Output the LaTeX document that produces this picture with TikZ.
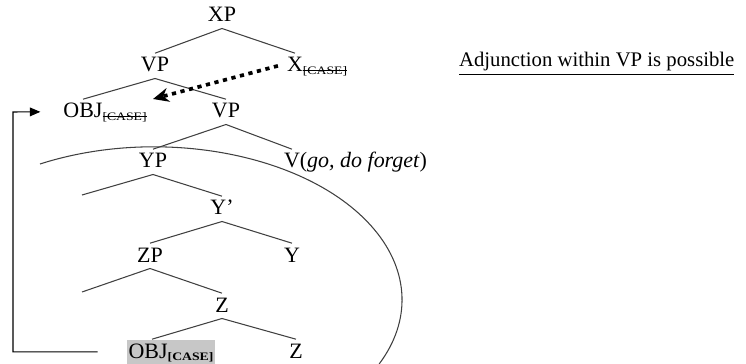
\documentclass[tikz,border=0pt]{standalone}
\usepackage{fontspec}
\setmainfont{Liberation Serif}
\newfontfamily\featfont{Liberation Serif}[FakeStretch=1.2]
\usetikzlibrary{arrows.meta}

\newcommand{\feat}[1]{\raisebox{-1.5pt}{\featfont\fontsize{6.5}{7}\selectfont #1}}% case feature as subscript
\newcommand{\casegone}{\feat{\setbox0\hbox{[CASE]}\rlap{\rule[2.1pt]{\wd0}{0.4pt}}\box0}}% checked feature
\newcommand{\casekept}{\feat{\bfseries[CASE]}}

\begin{document}
\begin{tikzpicture}[x=0.02cm,y=-0.02cm,
		cat/.style={inner sep=1pt,text height=9.5pt,text depth=2.5pt,anchor=base,font=\fontsize{12.5}{15}\selectfont},
		branch/.style={draw=black!75,line width=0.6pt},
		adjoin/.style={line width=2.1pt,dash pattern=on 2.4pt off 2.6pt,-{Stealth[length=9pt,width=8pt,inset=3pt]}},
		back/.style={line width=0.6pt,-{Triangle[length=6pt,width=5pt]}}]
		\useasboundingbox (0,0) rectangle (746,364);% page frame
		% categories
		\node[cat] (XP) at (222,22) {XP};
		\node[cat] (VP) at (155,72) {VP};
		\node[cat] (X) at (295,72) {X\rlap{\casegone}};
		\node[cat] (OBJ) at (83,118) {OBJ\rlap{\casegone}};
		\node[cat] (VPb) at (226,118) {VP};
		\node[cat] (YP) at (153,168) {YP};
		\node[cat] (V) at (292,168) {V\rlap{(\textit{go, do forget})}};
		\node[cat] (Ybar) at (222,215) {Y'};
		\node[cat] (ZP) at (150,262) {ZP};
		\node[cat] (Y) at (292,262) {Y};
		\node[cat] (Z) at (222,312) {Z};
		\node[cat,fill=black!22] (OBJb) at (171,358) {OBJ\casekept};
		\node[cat] (Zb) at (296,358) {Z};
		\node[cat,anchor=base west,font=\fontsize{11.8}{14}\selectfont] (note) at (457,67) {\underline{Adjunction within VP is possible}};
		\coordinate (gapY) at (82,195);% empty specifiers
		\coordinate (gapZ) at (82,292);
		\coordinate (landing) at (153,99);
		\coordinate (turn) at (13,112);
		\coordinate (domain) at (40,164);
		% branches
		\draw[branch] (XP.south) -- (VP.north);
		\draw[branch] (XP.south) -- (X.north);
		\draw[branch] (VP.south) -- (OBJ.north);
		\draw[branch] (VP.south) -- (VPb.north);
		\draw[branch] (VPb.south) -- (YP.north);
		\draw[branch] (VPb.south) -- (V.north);
		\draw[branch] (YP.south) -- (gapY);
		\draw[branch] (YP.south) -- (Ybar.north);
		\draw[branch] (Ybar.south) -- (ZP.north);
		\draw[branch] (Ybar.south) -- (Y.north);
		\draw[branch] (ZP.south) -- (gapZ);
		\draw[branch] (ZP.south) -- (Z.north);
		\draw[branch] (Z.south) -- ([xshift=-0.38cm]OBJb.north);
		\draw[branch] (Z.south) -- (Zb.north);
		% domain boundary
		\draw[branch] (domain) arc[start angle=117.4,end angle=-24.8,x radius=4.96cm,y radius=3.06cm];
		% movement
		\draw[adjoin] ([xshift=-4pt]X.west) -- (landing);
		\draw[back] ([xshift=-0.58cm]OBJb.west) -| (turn) -- ([xshift=-0.42cm]OBJ.west);
	\end{tikzpicture}
\end{document}
